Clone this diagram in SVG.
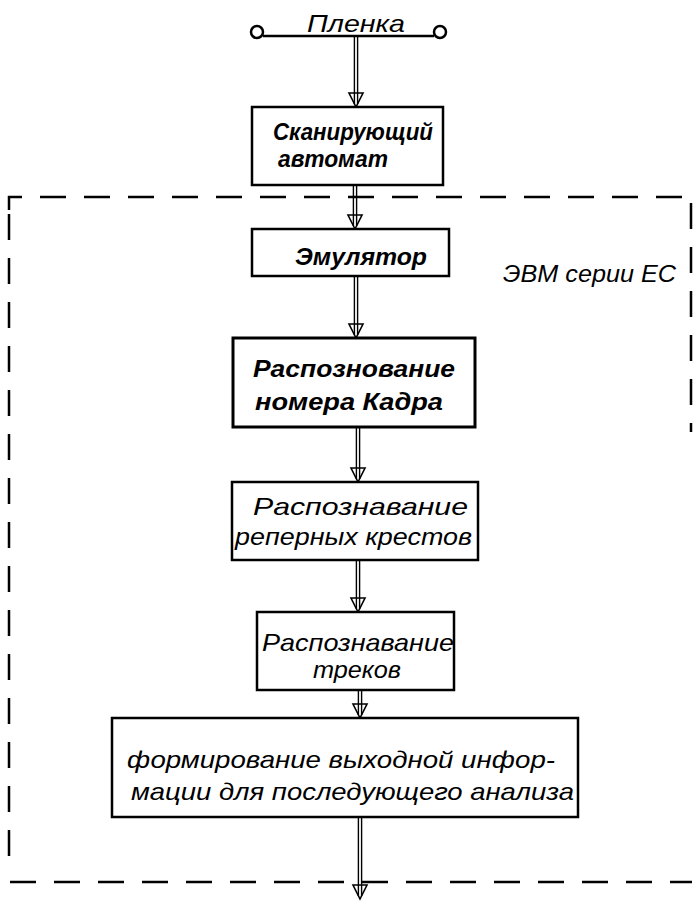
<svg xmlns="http://www.w3.org/2000/svg" width="693" height="901" viewBox="0 0 693 901">
<style>
.bg{fill:#ffffff}
.box{fill:#ffffff;stroke:#000;stroke-width:2.5}
.t{font-family:"Liberation Sans","DejaVu Sans",sans-serif;font-style:italic;fill:#000;font-size:24px}
.b{font-weight:bold}
.dash{fill:none;stroke:#000;stroke-width:2.5;stroke-dasharray:26 18}
.rail{stroke:#000;stroke-width:1.4;fill:none}
.ah{fill:#fff;stroke:#000;stroke-width:1.6}
</style>
<defs>
<g id="arrow"><polygon class="ah" points="-7,-14 7,-14 0,0"/><line class="rail" x1="-1.6" y1="-14" x2="-1.6" y2="-3"/><line class="rail" x1="1.6" y1="-14" x2="1.6" y2="-3"/></g>
</defs>
<rect class="bg" x="0" y="0" width="693" height="901"/>

<g id="frame">
<path class="dash" d="M9,210 V197 H690"/>
<path class="dash" d="M9,214 V870"/>
<path class="dash" d="M691,203 V432"/>
<path class="dash" d="M10,882 H692"/>
</g>

<g id="film">
<circle cx="257" cy="32" r="6" fill="none" stroke="#000" stroke-width="2.5"/>
<circle cx="440" cy="32" r="6" fill="none" stroke="#000" stroke-width="2.5"/>
<line x1="263" y1="36" x2="434" y2="36" stroke="#000" stroke-width="2.5"/>
<text class="t" x="307" y="32" font-size="26" textLength="98" lengthAdjust="spacingAndGlyphs">Пленка</text>
</g>

<g id="connectors">
<g><line class="rail" x1="354.4" y1="36" x2="354.4" y2="93"/><line class="rail" x1="357.6" y1="36" x2="357.6" y2="93"/><use href="#arrow" x="356" y="107"/></g>
<g><line class="rail" x1="353.4" y1="185" x2="353.4" y2="215"/><line class="rail" x1="356.6" y1="185" x2="356.6" y2="215"/><use href="#arrow" x="355" y="229"/></g>
<g><line class="rail" x1="354.4" y1="276" x2="354.4" y2="324"/><line class="rail" x1="357.6" y1="276" x2="357.6" y2="324"/><use href="#arrow" x="356" y="338"/></g>
<g><line class="rail" x1="356.4" y1="428" x2="356.4" y2="468"/><line class="rail" x1="359.6" y1="428" x2="359.6" y2="468"/><use href="#arrow" x="358" y="482"/></g>
<g><line class="rail" x1="356.4" y1="560" x2="356.4" y2="598"/><line class="rail" x1="359.6" y1="560" x2="359.6" y2="598"/><use href="#arrow" x="358" y="612"/></g>
<g><line class="rail" x1="358.4" y1="690" x2="358.4" y2="704"/><line class="rail" x1="361.6" y1="690" x2="361.6" y2="704"/><use href="#arrow" x="360" y="718"/></g>
<g><line class="rail" x1="358.4" y1="817" x2="358.4" y2="885"/><line class="rail" x1="361.6" y1="817" x2="361.6" y2="885"/><use href="#arrow" x="360" y="899"/></g>
</g>

<g id="scanner">
<rect class="box" x="252" y="107" width="191" height="78"/>
<text class="t b" x="273" y="140" font-size="25" textLength="160" lengthAdjust="spacingAndGlyphs">Сканирующий</text>
<text class="t b" x="278" y="167" font-size="25" textLength="110" lengthAdjust="spacingAndGlyphs">автомат</text>
</g>

<g id="emulator">
<rect class="box" x="252" y="229" width="197" height="47"/>
<text class="t b" x="295" y="265" textLength="132" lengthAdjust="spacingAndGlyphs">Эмулятор</text>
</g>

<g id="ec-label">
<text class="t" x="503" y="282" font-size="25" textLength="173" lengthAdjust="spacingAndGlyphs">ЭВМ серии ЕС</text>
</g>

<g id="frame-number">
<rect class="box" x="233" y="338" width="242" height="89" style="stroke-width:3"/>
<text class="t b" x="253" y="377" font-size="27" textLength="202" lengthAdjust="spacingAndGlyphs">Распознование</text>
<text class="t b" x="255" y="410" font-size="27" textLength="188" lengthAdjust="spacingAndGlyphs">номера Кадра</text>
</g>

<g id="crosses">
<rect class="box" x="232" y="482" width="246" height="78"/>
<text class="t" x="253" y="515" font-size="27" textLength="215" lengthAdjust="spacingAndGlyphs">Распознавание</text>
<text class="t" x="235" y="545" font-size="27" textLength="237" lengthAdjust="spacingAndGlyphs">реперных крестов</text>
</g>

<g id="tracks">
<rect class="box" x="257" y="612" width="197" height="78"/>
<text class="t" x="262" y="651" font-size="25" textLength="192" lengthAdjust="spacingAndGlyphs">Распознавание</text>
<text class="t" x="313" y="678" font-size="25" textLength="88" lengthAdjust="spacingAndGlyphs">треков</text>
</g>

<g id="output">
<rect class="box" x="112" y="718" width="466" height="99"/>
<text class="t" x="127" y="768" font-size="26" textLength="428" lengthAdjust="spacingAndGlyphs">формирование выходной инфор-</text>
<text class="t" x="131" y="800" font-size="26" textLength="443" lengthAdjust="spacingAndGlyphs">мации для последующего анализа</text>
</g>
</svg>
